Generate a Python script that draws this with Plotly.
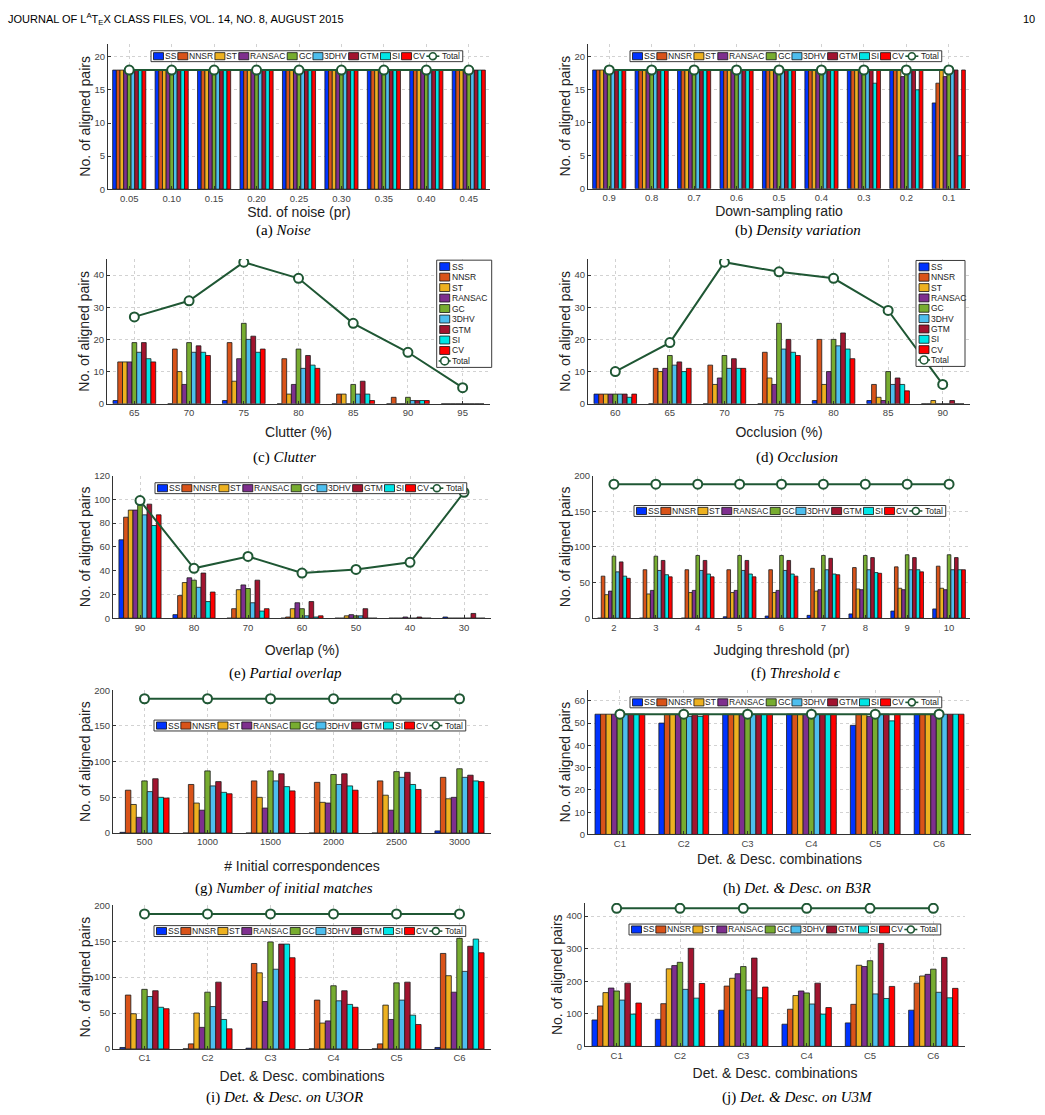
import plotly.graph_objects as go

W, H = 1045, 1115
SANS = "Liberation Sans, Arial, sans-serif"
SERIF = "Liberation Serif, DejaVu Serif, serif"

SERIES = ["SS", "NNSR", "ST", "RANSAC", "GC", "3DHV", "GTM", "SI", "CV"]
COLORS = ["#0033FF", "#D95319", "#EDB120", "#7E2F8E", "#77AC30",
          "#4DBEEE", "#A2142F", "#00E6E6", "#FF0000"]
TOTAL_COLOR = "#1F5734"

# ---------------- data (rows follow SERIES order) ----------------
noise_levels = ["0.05", "0.10", "0.15", "0.20", "0.25", "0.30", "0.35", "0.40", "0.45"]
noise_values = [
    [18, 18, 18, 18, 18, 18, 18, 18, 18],
    [18, 18, 18, 18, 18, 18, 18, 18, 18],
    [18, 18, 18, 18, 18, 18, 18, 18, 18],
    [18, 18, 18, 18, 18, 18, 18, 18, 18],
    [18, 18, 18, 18, 18, 18, 18, 18, 18],
    [18, 18, 18, 18, 18, 18, 18, 18, 18],
    [18, 18, 18, 18, 18, 18, 18, 18, 18],
    [18, 18, 18, 18, 18, 18, 18, 18, 18],
    [18, 18, 18, 18, 18, 18, 18, 18, 18],
]
noise_total = [18, 18, 18, 18, 18, 18, 18, 18, 18]

density_ratios = ["0.9", "0.8", "0.7", "0.6", "0.5", "0.4", "0.3", "0.2", "0.1"]
density_values = [
    [18, 18, 18, 18, 18, 18, 18, 18, 13],
    [18, 18, 18, 18, 18, 18, 18, 18, 16],
    [18, 18, 18, 18, 18, 18, 18, 18, 18],
    [18, 18, 18, 18, 18, 18, 18, 17, 17],
    [18, 18, 18, 18, 18, 18, 18, 18, 18],
    [18, 18, 18, 18, 18, 18, 18, 18, 18],
    [18, 18, 18, 18, 18, 18, 18, 18, 18],
    [18, 18, 18, 18, 18, 18, 16, 15, 5],
    [18, 18, 18, 18, 18, 18, 18, 18, 18],
]
density_total = [18, 18, 18, 18, 18, 18, 18, 18, 18]

clutter_levels = ["65", "70", "75", "80", "85", "90", "95"]
clutter_values = [
    [1, 0, 1, 0, 0, 0, 0],
    [13, 17, 19, 14, 3, 2, 0],
    [13, 10, 7, 3, 3, 0, 0],
    [13, 6, 14, 6, 0, 0, 0],
    [19, 19, 25, 17, 6, 2, 0],
    [16, 16, 20, 11, 3, 1, 0],
    [19, 18, 21, 15, 7, 1, 0],
    [14, 16, 16, 12, 3, 1, 0],
    [13, 15, 17, 11, 1, 1, 0],
]
clutter_total = [27, 32, 44, 39, 25, 16, 5]

occlusion_levels = ["60", "65", "70", "75", "80", "85", "90"]
occlusion_values = [
    [3, 0, 0, 0, 1, 1, 0],
    [3, 11, 12, 16, 20, 6, 0],
    [3, 10, 6, 8, 6, 2, 1],
    [3, 11, 8, 6, 10, 1, 0],
    [3, 15, 15, 25, 20, 10, 0],
    [3, 12, 11, 17, 18, 6, 0],
    [3, 13, 14, 20, 22, 8, 1],
    [2, 10, 11, 16, 17, 6, 0],
    [3, 11, 11, 15, 14, 4, 0],
]
occlusion_total = [10, 19, 44, 41, 39, 29, 6]

overlap_levels = ["90", "80", "70", "60", "50", "40", "30"]
overlap_values = [
    [66, 3, 0, 0, 0, 0, 1],
    [85, 19, 8, 1, 0, 0, 0],
    [91, 30, 24, 8, 2, 0, 0],
    [91, 34, 28, 13, 3, 1, 0],
    [95, 32, 25, 8, 2, 0, 0],
    [87, 26, 13, 2, 2, 0, 0],
    [96, 38, 32, 14, 8, 1, 4],
    [78, 14, 6, 1, 0, 0, 0],
    [87, 22, 8, 2, 0, 0, 0],
]
overlap_total = [99, 42, 52, 38, 41, 47, 106]

threshold_levels = ["2", "3", "4", "5", "6", "7", "8", "9", "10"]
threshold_values = [
    [0, 0, 0, 2, 3, 4, 6, 10, 13],
    [59, 68, 68, 68, 68, 70, 71, 72, 73],
    [33, 34, 36, 36, 36, 38, 41, 42, 42],
    [38, 39, 39, 39, 39, 40, 40, 40, 40],
    [87, 87, 88, 88, 88, 88, 88, 89, 89],
    [65, 67, 67, 67, 67, 68, 68, 68, 68],
    [79, 81, 81, 81, 81, 84, 85, 85, 85],
    [59, 61, 62, 62, 62, 62, 64, 68, 68],
    [56, 58, 58, 58, 59, 61, 63, 65, 68],
]
threshold_total = [188, 188, 188, 188, 188, 188, 188, 188, 188]

initial_counts = ["500", "1000", "1500", "2000", "2500", "3000"]
initial_values = [
    [1, 0, 0, 0, 0, 3],
    [60, 68, 73, 71, 73, 78],
    [40, 42, 50, 43, 53, 48],
    [22, 32, 35, 42, 32, 50],
    [73, 87, 87, 82, 86, 90],
    [58, 66, 73, 68, 78, 78],
    [76, 72, 83, 83, 85, 81],
    [50, 57, 65, 66, 68, 73],
    [49, 55, 59, 60, 61, 72],
]
initial_total = [188, 188, 188, 188, 188, 188]

combos = ["C1", "C2", "C3", "C4", "C5", "C6"]
b3r_values = [
    [54, 50, 54, 54, 49, 54],
    [54, 54, 54, 54, 54, 54],
    [54, 54, 54, 54, 54, 54],
    [54, 54, 54, 54, 53, 54],
    [54, 54, 54, 54, 54, 54],
    [54, 53, 54, 54, 54, 54],
    [54, 54, 54, 54, 54, 54],
    [54, 53, 54, 54, 51, 54],
    [54, 54, 54, 54, 54, 54],
]
b3r_total = [54, 54, 54, 54, 54, 54]

u3or_values = [
    [2, 0, 1, 0, 0, 2],
    [75, 7, 119, 68, 7, 133],
    [49, 50, 106, 36, 61, 102],
    [41, 30, 66, 39, 41, 79],
    [83, 79, 149, 88, 92, 154],
    [73, 59, 111, 67, 68, 108],
    [81, 93, 146, 81, 93, 143],
    [58, 41, 146, 62, 47, 153],
    [56, 28, 127, 58, 34, 134],
]
u3or_total = [188, 188, 188, 188, 188, 188]

u3m_values = [
    [81, 83, 111, 68, 72, 111],
    [124, 131, 185, 114, 129, 194],
    [165, 238, 209, 156, 249, 216],
    [179, 248, 223, 170, 245, 221],
    [170, 258, 245, 164, 263, 237],
    [142, 175, 173, 130, 161, 166],
    [194, 301, 271, 194, 316, 273],
    [99, 148, 149, 99, 147, 149],
    [133, 193, 182, 119, 184, 178],
]
u3m_total = [424, 424, 424, 424, 424, 424]

# ---------------- helpers ----------------
def px_x(p):
    return p / W


def px_y(p):
    return 1 - p / H


CHAR_W = {'S': 667, 'N': 722, 'R': 722, 'T': 611, 'A': 667, 'C': 722, 'G': 778,
          '3': 556, 'D': 722, 'H': 722, 'V': 667, 'M': 833, 'I': 278,
          'o': 556, 't': 278, 'a': 556, 'l': 222}


def text_w(s, size):
    return sum(CHAR_W.get(c, 600) for c in s) * size / 1000.0


shapes = []
annotations = []


def rect(x0, y0, x1, y1, fill, line_color, lw=1.0):
    shapes.append(dict(type="rect", xref="paper", yref="paper",
                       x0=px_x(x0), x1=px_x(x1), y0=px_y(y1), y1=px_y(y0),
                       fillcolor=fill, line=dict(color=line_color, width=lw),
                       layer="above"))


def hline(x0, x1, y, color, lw):
    shapes.append(dict(type="line", xref="paper", yref="paper",
                       x0=px_x(x0), x1=px_x(x1), y0=px_y(y), y1=px_y(y),
                       line=dict(color=color, width=lw), layer="above"))


def circle(cx, cy, r, color, lw):
    shapes.append(dict(type="circle", xref="paper", yref="paper",
                       x0=px_x(cx - r), x1=px_x(cx + r), y0=px_y(cy + r), y1=px_y(cy - r),
                       fillcolor="white", line=dict(color=color, width=lw), layer="above"))


def label(x, y, text, size, anchor="left", color="#111", family=SANS, angle=0):
    annotations.append(dict(x=px_x(x), y=px_y(y), xref="paper", yref="paper",
                            text=text, showarrow=False, xanchor=anchor, yanchor="middle",
                            font=dict(size=size, color=color, family=family),
                            textangle=angle, borderpad=0))


LEG_FS = 8.5


def legend_h(x0, yc):
    x = x0 + 2.5
    parts = []
    for name, col in zip(SERIES, COLORS):
        parts.append(("sw", x, col))
        parts.append(("tx", x + 10.5, name))
        x += 10.5 + text_w(name, LEG_FS) + 2.5
    parts.append(("tot", x, None))
    parts.append(("tx", x + 14.5, "Total"))
    x += 14.5 + text_w("Total", LEG_FS) + 3
    rect(x0, yc - 5.5, x, yc + 5.5, "white", "#3a3a3a", 1)
    for kind, px, val in parts:
        if kind == "sw":
            rect(px, yc - 3.6, px + 10, yc + 3.6, val, "#111", 0.8)
        elif kind == "tot":
            hline(px, px + 13, yc, TOTAL_COLOR, 1.6)
            circle(px + 6.5, yc, 3.5, TOTAL_COLOR, 1.6)
        else:
            label(px, yc, val, LEG_FS, color="#222")


def legend_v(x0, x1, ytop, ybot):
    rect(x0, ytop, x1, ybot, "white", "#3a3a3a", 1)
    pitch = (ybot - ytop - 13) / 9.0
    for i, (name, col) in enumerate(zip(SERIES, COLORS)):
        yc = ytop + 6.5 + i * pitch
        rect(x0 + 3, yc - 4, x0 + 13, yc + 4, col, "#111", 0.8)
        label(x0 + 14, yc, name, LEG_FS, color="#222")
    yc = ytop + 6.5 + 9 * pitch
    hline(x0 + 2, x0 + 14, yc, TOTAL_COLOR, 1.6)
    circle(x0 + 8, yc, 4, TOTAL_COLOR, 1.6)
    label(x0 + 14, yc, "Total", LEG_FS, color="#222")


panels = [
    dict(cats=noise_levels, vals=noise_values, total=noise_total,
         box=(108, 490, 38, 185), yr=[0, 22], dt=5, xt="Std. of noise (pr)", so=1,
         cap="(a) <i>Noise</i>", capxy=(283, 227), leg=("h", 151, 50.7), side="L"),
    dict(cats=density_ratios, vals=density_values, total=density_total,
         box=(588, 970, 38, 184.5), yr=[0, 22], dt=5, xt="Down-sampling ratio", so=1,
         cap="(b) <i>Density variation</i>", capxy=(798, 227), leg=("h", 630, 50.7), side="R"),
    dict(cats=clutter_levels, vals=clutter_values, total=clutter_total,
         box=(107, 490, 255.5, 401.7), yr=[0, 45], dt=10, xt="Clutter (%)", so=10,
         cap="(c) <i>Clutter</i>", capxy=(284, 456), leg=("v", 436.7, 491.7, 256.7, 365), side="L"),
    dict(cats=occlusion_levels, vals=occlusion_values, total=occlusion_total,
         box=(588, 970, 255.5, 401.7), yr=[0, 45], dt=10, xt="Occlusion (%)", so=10,
         cap="(d) <i>Occlusion</i>", capxy=(797, 456), leg=("v", 916, 965, 257, 364), side="R"),
    dict(cats=overlap_levels, vals=overlap_values, total=overlap_total,
         box=(113, 491, 474.3, 618.3), yr=[0, 120], dt=20, xt="Overlap (%)", so=13,
         cap="(e) <i>Partial overlap</i>", capxy=(285, 674), leg=("h", 155, 487), side="L"),
    dict(cats=threshold_levels, vals=threshold_values, total=threshold_total,
         box=(593, 970, 474.3, 618.3), yr=[0, 200], dt=50, xt="Judging threshold (pr)", so=13,
         cap="(f) <i>Threshold \u03f5</i>", capxy=(796, 674), leg=("h", 634, 510), side="R"),
    dict(cats=initial_counts, vals=initial_values, total=initial_total,
         box=(113, 491, 691, 835.3), yr=[0, 200], dt=50, xt="# Initial correspondences", so=14,
         cap="(g) <i>Number of initial matches</i>", capxy=(284, 891), leg=("h", 154, 726.7), side="L"),
    dict(cats=combos, vals=b3r_values, total=b3r_total,
         box=(588, 971, 690.5, 836.7), yr=[0, 65], dt=10, xt="Det. & Desc. combinations", so=6,
         cap="(h) <i>Det. & Desc. on B3R</i>", capxy=(797, 891), leg=("h", 630, 703.3), side="R"),
    dict(cats=combos, vals=u3or_values, total=u3or_total,
         box=(113, 491, 908.3, 1053.3), yr=[0, 200], dt=50, xt="Det. & Desc. combinations", so=8,
         cap="(i) <i>Det. & Desc. on U3OR</i>", capxy=(284, 1102), leg=("h", 154, 934.3), side="L"),
    dict(cats=combos, vals=u3m_values, total=u3m_total,
         box=(585, 965, 906, 1050.7), yr=[0, 440], dt=100, xt="Det. & Desc. combinations", so=8,
         cap="(j) <i>Det. & Desc. on U3M</i>", capxy=(797, 1102), leg=("h", 629, 932.7), side="R"),
]

fig = go.Figure()
layout_axes = {}

for k, p in enumerate(panels, start=1):
    xa = "x" if k == 1 else f"x{k}"
    ya = "y" if k == 1 else f"y{k}"
    for name, col, vals in zip(SERIES, COLORS, p["vals"]):
        fig.add_trace(go.Bar(x=p["cats"], y=vals, name=name, xaxis=xa, yaxis=ya,
                             marker=dict(color=col, line=dict(color="#1a1a1a", width=0.8)),
                             showlegend=False))
    fig.add_trace(go.Scatter(x=p["cats"], y=p["total"], name="Total", xaxis=xa, yaxis=ya,
                             mode="lines+markers",
                             line=dict(color=TOTAL_COLOR, width=2),
                             marker=dict(symbol="circle", size=9, color="white",
                                         line=dict(color=TOTAL_COLOR, width=2)),
                             showlegend=False))
    x0, x1, yt, yb = p["box"]
    n = len(p["cats"])
    axis_common = dict(showline=True, linecolor="#333", linewidth=1, mirror=False,
                       zeroline=False, showgrid=True, gridcolor="#d2d2d2", griddash="dot",
                       gridwidth=1, ticks="inside", ticklen=3, tickcolor="#333",
                       tickfont=dict(family=SANS, size=9.5, color="#444"))
    layout_axes["xaxis" if k == 1 else f"xaxis{k}"] = dict(
        domain=[px_x(x0), px_x(x1)], anchor=ya, type="category",
        categoryorder="array", categoryarray=p["cats"], range=[-0.5, n - 0.5],
        title=dict(text=p["xt"], standoff=p["so"], font=dict(family=SANS, size=14, color="#222")),
        **axis_common)
    layout_axes["yaxis" if k == 1 else f"yaxis{k}"] = dict(
        domain=[px_y(yb), px_y(yt)], anchor=xa, range=p["yr"], dtick=p["dt"], tick0=0,
        title=dict(text="No. of aligned pairs", standoff=0,
                   font=dict(family=SANS, size=14, color="#222")),
        **axis_common)
    leg = p["leg"]
    if leg[0] == "h":
        legend_h(leg[1], leg[2])
    else:
        legend_v(leg[1], leg[2], leg[3], leg[4])
    label(p["capxy"][0], p["capxy"][1], p["cap"], 15, anchor="center", color="#000", family=SERIF)

label(7, 13, "JOURNAL OF L<sup>A</sup>T<sub>E</sub>X CLASS FILES, VOL. 14, NO. 8, AUGUST 2015",
      11, anchor="left", color="#000", family=SANS)
label(1036, 13, "10", 11, anchor="right", color="#000", family=SANS)

fig.update_layout(
    width=W, height=H, margin=dict(l=0, r=0, t=0, b=0),
    paper_bgcolor="white", plot_bgcolor="white",
    barmode="group", bargap=0.22, bargroupgap=0.0,
    showlegend=False, shapes=shapes, annotations=annotations,
    font=dict(family=SANS),
    **layout_axes,
)

fig.write_html("out.html")
